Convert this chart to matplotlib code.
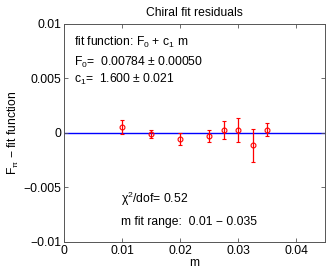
import matplotlib
matplotlib.use("Agg")
import matplotlib.pyplot as plt

plt.rcParams['font.family'] = ['Liberation Sans', 'DejaVu Sans']
plt.rcParams['mathtext.fontset'] = 'custom'
plt.rcParams['mathtext.rm'] = 'Liberation Sans'
plt.rcParams['mathtext.it'] = 'Liberation Sans'
plt.rcParams['axes.unicode_minus'] = True

m_vals = [0.010, 0.015, 0.020, 0.025, 0.0275, 0.030, 0.0325, 0.035]
resid = [0.00055, -0.0001, -0.00055, -0.00025, 0.00028, 0.00025, -0.00113, 0.0003]
errs = [0.0006, 0.0004, 0.00055, 0.00053, 0.00085, 0.0011, 0.0015, 0.0006]
xticks = [0, 0.01, 0.02, 0.03, 0.04]
xticklabels = ['0', '0.01', '0.02', '0.03', '0.04']
yticks = [-0.01, -0.005, 0, 0.005, 0.01]
yticklabels = ['\u22120.01', '\u22120.005', '0', '0.005', '0.01']

fs = 8.7
fig = plt.figure(figsize=(3.28, 2.73), dpi=100)
ax = fig.add_axes([64/328, 1-242/273, (325-64)/328, (242-24)/273])

ax.axhline(0, color='#0000ff', lw=1.0, zorder=1)
ax.errorbar(m_vals, resid, yerr=errs, fmt='o', color='#ff0000', ms=3.5,
            mfc='none', mew=0.8, elinewidth=0.9, capsize=1.5, capthick=0.8, zorder=3)

ax.set_xlim(0, 0.045)
ax.set_ylim(-0.01, 0.01)
ax.set_xticks(xticks)
ax.set_xticklabels(xticklabels)
ax.set_yticks(yticks)
ax.set_yticklabels(yticklabels)
ax.tick_params(direction='in', top=True, right=True, labelsize=fs, length=3,
               width=0.6, color='#555555', pad=2)
for s in ax.spines.values():
    s.set_color('#555555')
    s.set_linewidth(0.7)

ax.set_title('Chiral fit residuals', fontsize=fs, pad=6)
ax.set_xlabel('m', fontsize=fs, labelpad=0)
ax.set_ylabel(r'$\mathregular{F_{\pi}}$ $-$ fit function', fontsize=fs, labelpad=2)

ax.text(0.0018, 0.0080, r'fit function: $\mathregular{F_0}$ + $\mathregular{c_1}$ m', fontsize=fs, va='baseline')
ax.text(0.0018, 0.0062, r'$\mathregular{F_0}$=  0.00784 $\pm$ 0.00050', fontsize=fs, va='baseline')
ax.text(0.0018, 0.0046, r'$\mathregular{c_1}$=  1.600 $\pm$ 0.021', fontsize=fs, va='baseline')
ax.text(0.0099, -0.0064, r'$\mathregular{\chi^2}$/dof= 0.52', fontsize=fs, va='baseline')
ax.text(0.0099, -0.0084, 'm fit range:  0.01 \u2212 0.035', fontsize=fs, va='baseline')

fig.savefig('out.png', dpi=100)
